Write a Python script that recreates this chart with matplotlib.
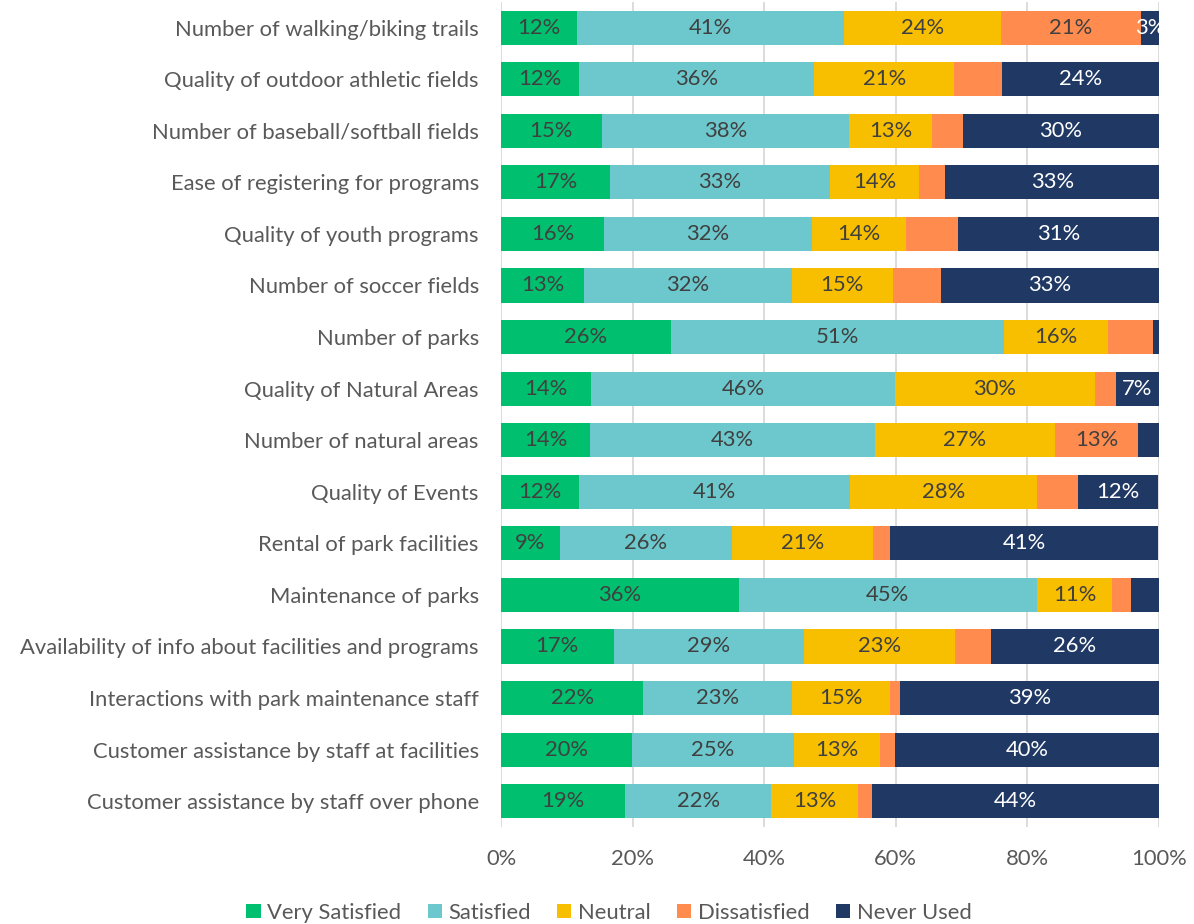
import numpy as np
import matplotlib.pyplot as plt
from matplotlib.patches import Patch

plt.rcParams['font.family'] = ['Lato', 'DejaVu Sans']

categories = [
    "Number of walking/biking trails",
    "Quality of outdoor athletic fields",
    "Number of baseball/softball fields",
    "Ease of registering for programs",
    "Quality of youth programs",
    "Number of soccer fields",
    "Number of parks",
    "Quality of Natural Areas",
    "Number of natural areas",
    "Quality of Events",
    "Rental of park facilities",
    "Maintenance of parks",
    "Availability of info about facilities and programs",
    "Interactions with park maintenance staff",
    "Customer assistance by staff at facilities",
    "Customer assistance by staff over phone",
]

very_satisfied = [11.6, 11.8, 15.3, 16.6, 15.6, 12.6, 25.8, 13.7, 13.6, 11.9, 8.9, 36.1, 17.1, 21.6, 19.9, 18.8]
satisfied = [40.6, 35.8, 37.6, 33.4, 31.6, 31.6, 50.6, 46.2, 43.2, 41.2, 26.2, 45.4, 28.9, 22.6, 24.6, 22.3]
neutral = [23.8, 21.3, 12.6, 13.6, 14.3, 15.3, 15.8, 30.3, 27.4, 28.3, 21.4, 11.3, 23.0, 14.9, 13.1, 13.2]
dissatisfied = [21.2, 7.3, 4.7, 3.9, 7.9, 7.4, 6.9, 3.2, 12.6, 6.3, 2.6, 3.0, 5.4, 1.6, 2.3, 2.1]
never_used = [2.9, 23.8, 29.8, 32.7, 30.6, 33.1, 0.9, 6.6, 3.2, 12.2, 40.8, 4.2, 25.6, 39.3, 40.1, 43.6]

series_names = ["Very Satisfied", "Satisfied", "Neutral", "Dissatisfied", "Never Used"]
colors = ["#00BF6F", "#6CC8CC", "#F8BE00", "#FF8B4F", "#203864"]
text_colors = ["#404040", "#404040", "#404040", "#404040", "white"]

# rows (by index) whose label was left off in the original chart
hidden_labels = {
    "Very Satisfied": [],
    "Satisfied": [],
    "Neutral": [],
    "Dissatisfied": [1, 2, 3, 4, 5, 6, 7, 9, 10, 11, 12, 13, 14, 15],
    "Never Used": [6, 8, 11],
}

series = [very_satisfied, satisfied, neutral, dissatisfied, never_used]
fs = 15.8

fig = plt.figure(figsize=(11.94, 9.24), dpi=100)
ax = fig.add_axes([0.4196, 0.105, 0.5511, 0.893])

y = np.arange(len(categories))
left = np.zeros(len(categories))
for name, vals, col, tcol in zip(series_names, series, colors, text_colors):
    vals = np.array(vals)
    ax.barh(y, vals, left=left, height=0.66, color=col, zorder=2)
    for i, v in enumerate(vals):
        if i in hidden_labels[name]:
            continue
        ax.text(left[i] + v / 2, y[i], f"{int(v + 0.5)}%", ha="center", va="center",
                color=tcol, fontsize=fs, zorder=3)
    left += vals

ax.set_xlim(0, 100)
ax.set_ylim(len(categories) - 0.5, -0.5)
ax.set_xticks(np.arange(0, 101, 20))
ax.set_xticklabels([f"{t}%" for t in range(0, 101, 20)])
ax.set_yticks(y)
ax.set_yticklabels(categories)
ax.tick_params(axis="both", length=0, labelsize=fs, labelcolor="#595959")
ax.tick_params(axis="x", pad=16)
ax.tick_params(axis="y", pad=16)
ax.grid(axis="x", color="#D9D9D9", linewidth=1.3, zorder=0)
for s in ax.spines.values():
    s.set_visible(False)

handles = [Patch(facecolor=c, label=n) for n, c in zip(series_names, colors)]
fig.legend(handles=handles, loc="lower center", bbox_to_anchor=(0.51, -0.02), ncol=5,
           frameon=False, fontsize=fs, handlelength=0.65, handleheight=0.65,
           handletextpad=0.3, columnspacing=1.2, labelcolor="#595959")

fig.savefig("out.png", dpi=100)
